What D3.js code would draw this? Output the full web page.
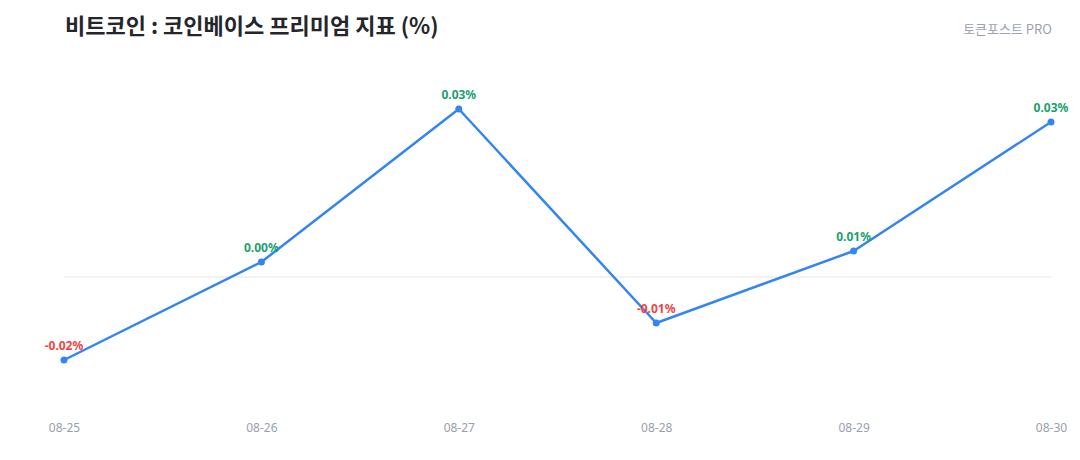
<!DOCTYPE html>
<html><head><meta charset="utf-8">
<script src="https://cdn.jsdelivr.net/npm/d3@7"></script>
<style>
html,body{margin:0;padding:0;background:#fff;}
svg{display:block;font-family:"Noto Sans CJK KR","Noto Sans",sans-serif;}
</style></head>
<body>
<svg id="chart" width="1080" height="460"></svg>
<script>
const dates = ["08-25","08-26","08-27","08-28","08-29","08-30"];
const premium = [-0.0166, 0.0030, 0.0336, -0.0092, 0.0052, 0.0310];
const yDomain = [-0.03, 0.045];
const titleText = "비트코인 : 코인베이스 프리미엄 지표 (%)";
const brandText = "토큰포스트 PRO";

const svg = d3.select("#chart");
const x = d3.scalePoint().domain(dates).range([64, 1051]);
const y = d3.scaleLinear().domain(yDomain).range([427, 52]);

svg.append("text").attr("x", 65).attr("y", 34)
  .attr("font-size", 22).attr("font-weight", 600).attr("fill", "#24262b")
  .text(titleText);
svg.append("text").attr("x", 1052).attr("y", 34).attr("text-anchor", "end")
  .attr("font-size", 13).attr("fill", "#9ca3af").text(brandText);

// zero line
svg.append("line").attr("x1", 64).attr("x2", 1051)
  .attr("y1", y(0)).attr("y2", y(0))
  .attr("stroke", "#eceef1").attr("stroke-width", 1.5);

// x axis
const xAxis = d3.axisBottom(x).tickSize(0).tickPadding(0);
const gx = svg.append("g").attr("transform", "translate(0,423)").call(xAxis);
gx.select(".domain").remove();
gx.selectAll("text").attr("font-size", 12).attr("fill", "#9aa0ab")
  .attr("font-family", "'Noto Sans','Noto Sans CJK KR',sans-serif").attr("dy", "0.71em");

const line = d3.line().x((d, i) => x(dates[i])).y(d => y(d));
svg.append("path").datum(premium).attr("d", line)
  .attr("fill", "none").attr("stroke", "#3385f2").attr("stroke-width", 2.5)
  .attr("stroke-linejoin", "round");

svg.selectAll("circle.pt").data(premium).join("circle").attr("class", "pt")
  .attr("cx", (d, i) => x(dates[i])).attr("cy", d => y(d)).attr("r", 3.5)
  .attr("fill", "#3385f2");

svg.selectAll("text.lbl").data(premium).join("text").attr("class", "lbl")
  .attr("x", (d, i) => x(dates[i])).attr("y", d => y(d) - 10)
  .attr("text-anchor", "middle").attr("font-size", 12).attr("font-weight", 700)
  .attr("font-family", "'Noto Sans','Noto Sans CJK KR',sans-serif")
  .attr("fill", d => d < 0 ? "#ef4444" : "#1a9f6e")
  .text(d => (Math.abs(d) < 0.005 ? 0 : d).toFixed(2) + "%");
</script>
</body></html>
